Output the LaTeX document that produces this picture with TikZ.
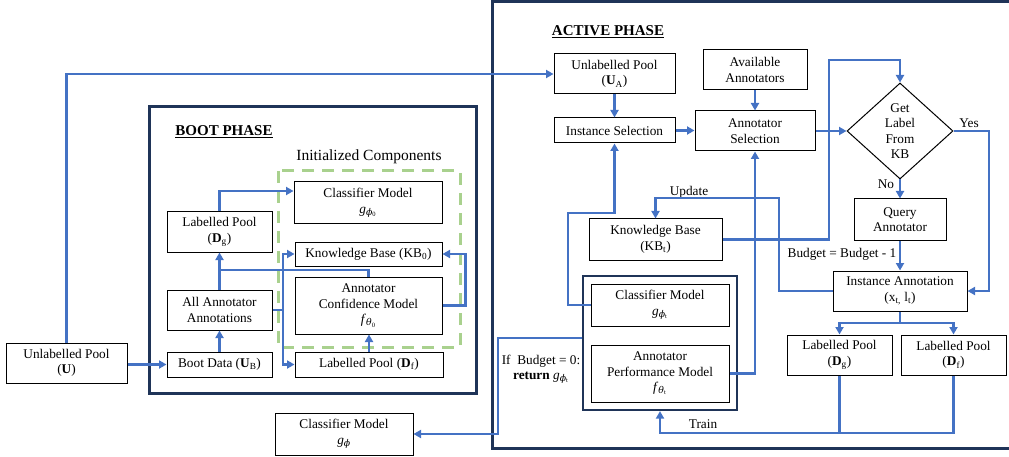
\documentclass[tikz,border=0pt]{standalone}
\usepackage{fontspec}
\setmainfont{Liberation Serif}
\newfontfamily\grk{DejaVu Serif}
\usetikzlibrary{arrows.meta,shapes.geometric}
\definecolor{lnblue}{HTML}{4472C4}
\definecolor{navy}{HTML}{1F3458}
\definecolor{dgreen}{HTML}{A9D18E}
\newcommand{\gph}[1]{\textit{g}\textsubscript{{\grk\itshape ϕ}\textsubscript{#1}}}
\newcommand{\fth}[1]{\textit{f}\textsubscript{{\grk\itshape θ}\textsubscript{#1}}}
\tikzset{
  bx/.style={draw=black, line width=1pt, fill=white, align=center, inner sep=0pt,
    font=\fontsize{13.3}{15.5}\selectfont},
  arr/.style={draw=lnblue, line width=2.1pt, -{Triangle[length=7.5pt,width=8pt]}},
  ln/.style={draw=lnblue, line width=2.1pt},
  phase/.style={draw=navy, line width=3pt},
  lbl/.style={font=\fontsize{13.3}{15.5}\selectfont, inner sep=0pt, align=center},
  ttl/.style={font=\fontsize{15}{18}\selectfont\bfseries, inner sep=0pt}
}
\begin{document}
\begin{tikzpicture}[x=1pt,y=-1pt]
\useasboundingbox (0,0) rectangle (1009,457);
% frames
\draw[phase] (149,107) rectangle (476,393);
\draw[phase] (492,2) rectangle (1030,448);
\draw[dgreen, line width=3pt, dash pattern=on 12pt off 8pt] (278,171) rectangle (460,347);
\node[ttl] (bootT) at (224,132) {\underline{BOOT PHASE}};
\node[ttl] (actT) at (608,32) {\underline{ACTIVE PHASE}};
\node[lbl, font=\fontsize{15.5}{18}\selectfont] (initT) at (369,157) {Initialized Components};
% boot nodes
\node[bx, minimum width=121, minimum height=40] (U) at (66.5,363) {Unlabelled Pool\\(\textbf{U})};
\node[bx, minimum width=105, minimum height=40] (Dgb) at (219.5,232) {Labelled Pool\\(\textbf{D}\textsubscript{g})};
\node[bx, minimum width=105, minimum height=40] (AAA) at (219.5,310) {All Annotator\\Annotations};
\node[bx, minimum width=105, minimum height=25] (UB) at (219.5,364.5) {Boot Data (\textbf{U}\textsubscript{B})};
\node[bx, minimum width=148, minimum height=42] (CM0) at (368,203) {Classifier Model\\\gph{0}};
\node[bx, minimum width=147, minimum height=24] (KB0) at (368.5,254) {Knowledge Base (KB\textsubscript{0})};
\node[bx, minimum width=147, minimum height=57] (ACM) at (368.5,305.5) {Annotator\\Confidence Model\\\fth{0}};
\node[bx, minimum width=148, minimum height=25] (Dfb) at (369,364.5) {Labelled Pool (\textbf{D}\textsubscript{f})};
\node[bx, minimum width=138, minimum height=42] (CMg) at (344,434) {Classifier Model\\\textit{g}\textsubscript{{\grk\itshape ϕ}}};
% active nodes
\node[bx, minimum width=121, minimum height=40] (UA) at (614.5,74) {Unlabelled Pool\\(\textbf{U}\textsubscript{A})};
\node[bx, minimum width=104, minimum height=40] (AvA) at (755,70) {Available\\Annotators};
\node[bx, minimum width=121, minimum height=25] (IS) at (614.5,130.5) {Instance Selection};
\node[bx, minimum width=120, minimum height=40] (AS) at (755,131) {Annotator\\Selection};
\node[bx, diamond, minimum width=106, minimum height=96] (D) at (900,131) {Get\\Label\\From\\KB};
\node[bx, minimum width=92, minimum height=41] (QA) at (900,219.5) {Query\\Annotator};
\node[bx, minimum width=134, minimum height=40] (IA) at (900,291) {Instance Annotation\\(x\textsubscript{t,} l\textsubscript{t})};
\node[bx, minimum width=105, minimum height=40] (Dga) at (839.5,355) {Labelled Pool\\(\textbf{D}\textsubscript{g})};
\node[bx, minimum width=105, minimum height=40] (Dfa) at (953.5,355) {Labelled Pool\\(\textbf{D}\textsubscript{f})};
\node[bx, minimum width=133, minimum height=41] (KBt) at (655.5,239.5) {Knowledge Base\\(KB\textsubscript{t})};
\node[draw=navy, line width=2.2pt, minimum width=154, minimum height=134, inner sep=0pt] (inner) at (660,343) {};
\node[bx, minimum width=138, minimum height=42] (CMt) at (660,305) {Classifier Model\\\gph{t}};
\node[bx, minimum width=138, minimum height=57] (APM) at (660,373.5) {Annotator\\Performance Model\\\fth{t}};
% labels
\node[lbl] (yes) at (969,123) {Yes};
\node[lbl] (no) at (886,184) {No};
\node[lbl] (budget) at (842,254) {Budget = Budget - 1};
\node[lbl] (update) at (689,192) {Update};
\node[lbl] (train) at (703,424) {Train};
\node[lbl] (ifb) at (541,361) {If~ Budget = 0:};
\node[lbl] (ret) at (541,378) {\textbf{return} \gph{t}};
% boot connectors
\draw[arr] (UB.west -| U.east) -- (UB.west);
\draw[arr] (UB.north) -- (AAA.south);
\draw[arr] (AAA.north) -- (Dgb.south);
\draw[ln] (AAA.north |- 0,270) -| (ACM.north);
\draw[arr] (Dgb.north) |- (CM0.west |- 0,191);
\coordinate (jn) at (283,310);
\draw[ln] (AAA.east) -- (jn);
\draw[arr] (jn) |- (KB0.west);
\draw[arr] (jn) |- (Dfb.west);
\draw[arr] (Dfb.north) -- (Dfb.north |- ACM.south);
\draw[arr] (ACM.east) -- ++(23,0) |- (KB0.east);
% to active
\draw[arr] (U.north) |- (UA.west);
\draw[arr] (UA.south) -- (IS.north);
\draw[arr] (AvA.south) -- (AS.north);
\draw[arr] (IS.east) -- (IS.east -| AS.west);
\draw[arr] (AS.east) -- (D.west);
\draw[arr] (D.east) -| (989,200) |- (IA.east);
\draw[arr] (D.south) -- (QA.north);
\draw[arr] (QA.south) -- (IA.north);
\coordinate (sp) at (900,323);
\draw[ln] (IA.south) -- (sp);
\draw[arr] (sp) -| (Dga.north);
\draw[arr] (sp) -| (Dfa.north);
\draw[ln] (Dfa.south) |- (Dga.south |- 0,433);
\draw[arr] (Dga.south) -- (Dga.south |- 0,433) -| (inner.south);
\draw[arr] (IA.west) -| (779,198) -| (KBt.north);
\draw[arr] (KBt.east) -| (829,60) -| (D.north);
\draw[arr] (CMt.west) -| (568,213) -| (IS.south);
\draw[arr] (APM.east) -| (AS.south);
\draw[arr] (inner.west |- 0,338) -| (498,434) -- (CMg.east);
\end{tikzpicture}
\end{document}
